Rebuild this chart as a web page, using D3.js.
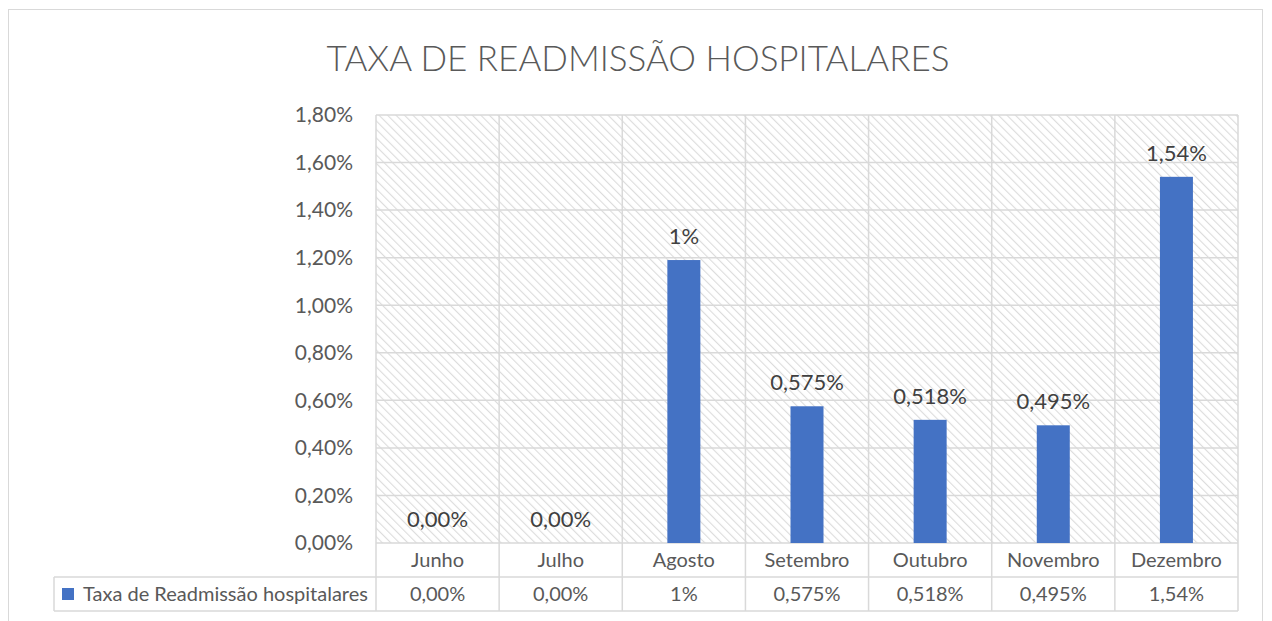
<!DOCTYPE html>
<html>
<head>
<meta charset="utf-8">
<script src="https://cdn.jsdelivr.net/npm/d3@7"></script>
<style>
  body { margin: 0; background: #fff; overflow: hidden; }
  svg { display: block; }
  text { font-family: Lato, "Open Sans", sans-serif; }
</style>
</head>
<body>
<svg width="1272" height="621"></svg>
<script>
const months = ['Junho', 'Julho', 'Agosto', 'Setembro', 'Outubro', 'Novembro', 'Dezembro']
const values = [0, 0, 1.19, 0.575, 0.518, 0.495, 1.54]
const labels = ['0,00%', '0,00%', '1%', '0,575%', '0,518%', '0,495%', '1,54%']
const yTicks = [0, 0.2, 0.4, 0.6, 0.8, 1.0, 1.2, 1.4, 1.6, 1.8]
const seriesName = 'Taxa de Readmissão hospitalares'

const svg = d3.select('svg')

const plotLeft = 376, plotRight = 1238, plotTop = 115, plotBottom = 543
const rowH = 34
const gridColor = '#d9d9d9'
const barColor = '#4472C4'

// hatch pattern
const defs = svg.append('defs')
const pat = defs.append('pattern')
	.attr('id', 'hatch')
	.attr('patternUnits', 'userSpaceOnUse')
	.attr('width', 6).attr('height', 6)
	.attr('patternTransform', 'rotate(-45)')
pat.append('rect').attr('width', 6).attr('height', 6).attr('fill', '#fff')
pat.append('line')
	.attr('x1', 0).attr('y1', 0).attr('x2', 0).attr('y2', 6)
	.attr('stroke', '#dcdcdc').attr('stroke-width', 2.2)

// outer frame
svg.append('rect')
	.attr('x', 8.5).attr('y', 9.5)
	.attr('width', 1254).attr('height', 640)
	.attr('fill', 'none').attr('stroke', gridColor)

svg.append('text')
	.attr('x', 638).attr('y', 71)
	.attr('text-anchor', 'middle')
	.attr('font-size', 35)
	.attr('font-weight', 300)
	.attr('fill', '#595959')
	.text('TAXA DE READMISSÃO HOSPITALARES')

const x = d3.scaleBand().domain(months).range([plotLeft, plotRight])
const y = d3.scaleLinear().domain([0, 1.8]).range([plotBottom, plotTop])

// plot background
svg.append('rect')
	.attr('x', plotLeft).attr('y', y(1.8))
	.attr('width', plotRight - plotLeft).attr('height', plotBottom - y(1.8))
	.attr('fill', 'url(#hatch)')

// horizontal gridlines
svg.append('g').selectAll('line')
	.data(yTicks)
	.enter().append('line')
	.attr('x1', plotLeft).attr('x2', plotRight)
	.attr('y1', d => y(d)).attr('y2', d => y(d))
	.attr('stroke', gridColor).attr('stroke-width', 1.5)

// vertical lines through plot and table
const vx = months.map(m => x(m)).concat([plotRight])
svg.append('g').selectAll('line')
	.data(vx)
	.enter().append('line')
	.attr('x1', d => d).attr('x2', d => d)
	.attr('y1', y(1.8)).attr('y2', plotBottom + 2 * rowH)
	.attr('stroke', gridColor).attr('stroke-width', 1.5)

// y axis labels
svg.append('g').selectAll('text')
	.data(yTicks)
	.enter().append('text')
	.attr('x', 353).attr('y', d => y(d))
	.attr('dy', '0.35em')
	.attr('text-anchor', 'end')
	.attr('font-size', 21)
	.attr('fill', '#595959')
	.text(d => d3.format('.2f')(d).replace('.', ',') + '%')

// bars
const barW = 33
svg.append('g').selectAll('rect')
	.data(values)
	.enter().append('rect')
	.attr('x', (d, i) => x(months[i]) + x.bandwidth() / 2 - barW / 2)
	.attr('y', d => y(d))
	.attr('width', barW)
	.attr('height', d => plotBottom - y(d))
	.attr('fill', barColor)

// data labels
svg.append('g').selectAll('text')
	.data(values)
	.enter().append('text')
	.attr('x', (d, i) => x(months[i]) + x.bandwidth() / 2)
	.attr('y', d => y(d) - 16)
	.attr('text-anchor', 'middle')
	.attr('font-size', 22)
	.attr('fill', '#404040')
	.text((d, i) => labels[i])

// data table
const tLeft = 54
svg.append('g').selectAll('line')
	.data([plotBottom + rowH, plotBottom + 2 * rowH])
	.enter().append('line')
	.attr('x1', tLeft).attr('x2', plotRight)
	.attr('y1', d => d).attr('y2', d => d)
	.attr('stroke', gridColor).attr('stroke-width', 1.5)
svg.append('line')
	.attr('x1', tLeft).attr('x2', tLeft)
	.attr('y1', plotBottom + rowH).attr('y2', plotBottom + 2 * rowH)
	.attr('stroke', gridColor).attr('stroke-width', 1.5)

svg.append('g').selectAll('text')
	.data(months)
	.enter().append('text')
	.attr('x', d => x(d) + x.bandwidth() / 2)
	.attr('y', plotBottom + rowH / 2)
	.attr('dy', '0.35em')
	.attr('text-anchor', 'middle')
	.attr('font-size', 20)
	.attr('fill', '#595959')
	.text(d => d)

svg.append('g').selectAll('text')
	.data(labels)
	.enter().append('text')
	.attr('x', (d, i) => x(months[i]) + x.bandwidth() / 2)
	.attr('y', plotBottom + rowH * 1.5)
	.attr('dy', '0.35em')
	.attr('text-anchor', 'middle')
	.attr('font-size', 20)
	.attr('fill', '#595959')
	.text(d => d)

svg.append('rect')
	.attr('x', 62).attr('y', plotBottom + rowH * 1.5 - 6)
	.attr('width', 12).attr('height', 12)
	.attr('fill', barColor)
svg.append('text')
	.attr('x', 83).attr('y', plotBottom + rowH * 1.5)
	.attr('dy', '0.35em')
	.attr('font-size', 20)
	.attr('fill', '#595959')
	.text(seriesName)
</script>
</body>
</html>
